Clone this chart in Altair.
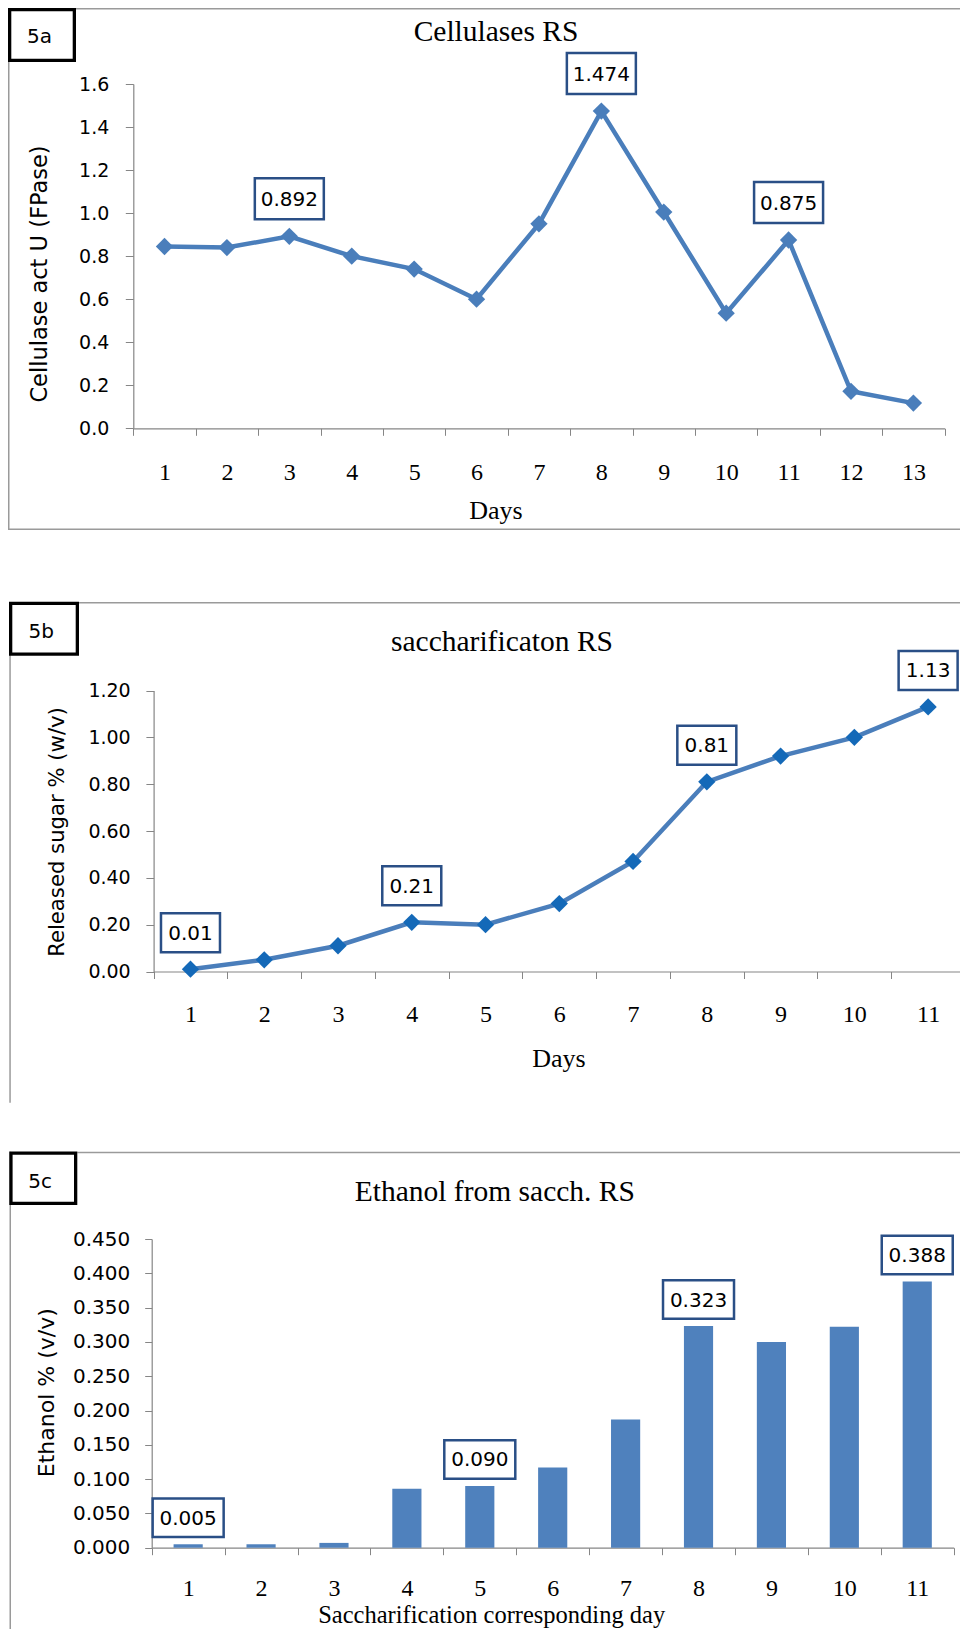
import altair as alt
import pandas as pd

# ---------------- data ----------------
days_a = [1, 2, 3, 4, 5, 6, 7, 8, 9, 10, 11, 12, 13]
cellulase = [0.845, 0.840, 0.892, 0.800, 0.740, 0.600, 0.950, 1.474, 1.005, 0.535, 0.875, 0.172, 0.117]
label_days_a = [3, 8, 11]

days_b = [1, 2, 3, 4, 5, 6, 7, 8, 9, 10, 11]
sugar = [0.01, 0.05, 0.11, 0.21, 0.20, 0.29, 0.47, 0.81, 0.92, 1.00, 1.13]
label_days_b = [1, 4, 8, 11]

days_c = [1, 2, 3, 4, 5, 6, 7, 8, 9, 10, 11]
ethanol = [0.005, 0.005, 0.007, 0.086, 0.090, 0.117, 0.187, 0.323, 0.300, 0.322, 0.388]
label_days_c = [1, 5, 8, 11]

y_ticks_a = [0.0, 0.2, 0.4, 0.6, 0.8, 1.0, 1.2, 1.4, 1.6]
y_ticks_b = [0.0, 0.2, 0.4, 0.6, 0.8, 1.0, 1.2]
y_ticks_c = [0.0, 0.05, 0.10, 0.15, 0.20, 0.25, 0.30, 0.35, 0.40, 0.45]

titles = ["Cellulases RS", "saccharificaton RS", "Ethanol from sacch. RS"]
x_titles = ["Days", "Days", "Saccharification corresponding day"]
y_titles = ["Cellulase act U (FPase)", "Released sugar % (w/v)", "Ethanol % (v/v)"]
tags = ["5a", "5b", "5c"]

# ---------------- style ----------------
AXIS_GRAY = "#868686"
FRAME_GRAY = "#9a9a9a"
LINE_BLUE = "#4a7ebb"
MARK_BLUE_B = "#1469b8"
BAR_BLUE = "#4f81bd"
BOX_BLUE = "#2a4f86"
SERIF = "Liberation Serif"
SANS = "DejaVu Sans"

# one canvas: the plot area starts at the page's 8px margin and stays inside the window
OX, OY = 8.0, 8.0
W, H = 952.0, 1621.0

ONE = pd.DataFrame({"k": [0]})


def rect(x1, y1, x2, y2, color):
    return alt.Chart(ONE).mark_rect(color=color, opacity=1).encode(
        x=alt.value(x1 - OX), x2=alt.value(x2 - OX),
        y=alt.value(y1 - OY), y2=alt.value(y2 - OY))


def text(s, x, y, size, font, angle=0):
    return alt.Chart(ONE).mark_text(
        text=s, font=font, fontSize=size, angle=angle, align="center",
        baseline="alphabetic", color="black").encode(
        x=alt.value(x - OX), y=alt.value(y - OY))


def tag_box(x1, y1, x2, y2, bw, s, tx, ty):
    return [rect(x1, y1, x2, y2, "black"),
            rect(x1 + bw, y1 + bw, x2 - bw, y2 - bw, "white"),
            text(s, tx, ty, 20, SANS)]


def encodings(p, with_axis):
    """p: panel geometry in page pixels."""
    x_axis = alt.Axis(title=None, orient="bottom", offset=(p["yb"] - OY) - H,
                      labelAngle=0, tickBand="extent", tickSize=7,
                      tickColor=AXIS_GRAY, domainColor=AXIS_GRAY, domainWidth=1.2,
                      labelFont=SERIF, labelFontSize=24, labelColor="black",
                      labelBaseline="alphabetic", labelPadding=p["xlp"], grid=False)
    y_axis = alt.Axis(title=None, orient="left", offset=-(p["x0"] - OX),
                      values=p["ticks"], format=p["fmt"], tickSize=p["yts"],
                      tickColor=AXIS_GRAY, domainColor=AXIS_GRAY, domainWidth=1.2,
                      labelFont=SANS, labelFontSize=p["ylfs"], labelColor="black",
                      labelPadding=p["ylp"], labelFlush=False, grid=False)
    x = alt.X("day:O",
              scale=alt.Scale(type="band", domain=p["days"], paddingInner=0, paddingOuter=0,
                              range=[p["x0"] - OX, p["x1"] - OX]),
              axis=x_axis if with_axis else None)
    y = alt.Y("v:Q",
              scale=alt.Scale(domain=p["dom"], nice=False, zero=True,
                              range=[p["yb"] - OY, p["yt"] - OY]),
              axis=y_axis if with_axis else None)
    return x, y


def box_path(ratio):
    return f"M-1,-{ratio}L1,-{ratio}L1,{ratio}L-1,{ratio}Z"


def data_labels(df, days, p, fmt, offset, bw, bh):
    x, y = encodings(p, False)
    sub = alt.Chart(df).transform_filter(alt.FieldOneOfPredicate(field="day", oneOf=days))
    box = sub.mark_point(shape=box_path(round(bh / bw, 4)), size=bw * bw, filled=True,
                         fill="white", stroke=BOX_BLUE, strokeWidth=2.5, opacity=1,
                         yOffset=offset).encode(x=x, y=y)
    txt = sub.mark_text(font=SANS, fontSize=20, color="black", baseline="middle",
                        yOffset=offset + 1).encode(x=x, y=y, text=alt.Text("v:Q", format=fmt))
    return [box, txt]


# ---------------- panel geometry (page pixels) ----------------
geo_a = dict(days=days_a, x0=133.3, x1=944.6, yt=84.0, yb=428.3, dom=[0, 1.6],
             ticks=y_ticks_a, fmt=".1f", yts=8, ylp=16.5, ylfs=19, xlp=43.7)
geo_b = dict(days=days_b, x0=153.6, x1=965.0, yt=690.5, yb=971.5, dom=[0, 1.2],
             ticks=y_ticks_b, fmt=".2f", yts=7.7, ylp=15.7, ylfs=19, xlp=42.5)
geo_c = dict(days=days_c, x0=151.7, x1=953.7, yt=1239.0, yb=1547.7, dom=[0, 0.45],
             ticks=y_ticks_c, fmt=".3f", yts=7, ylp=15, ylfs=20, xlp=40.3)

df_a = pd.DataFrame({"day": days_a, "v": cellulase})
df_b = pd.DataFrame({"day": days_b, "v": sugar})
df_c = pd.DataFrame({"day": days_c, "v": ethanol})

# ---------------- decorations ----------------
deco = [
    # panel a frame + tag
    rect(76, 8, 968, 9.5, FRAME_GRAY),
    rect(8, 8, 9.5, 530, FRAME_GRAY),
    rect(8, 528.5, 968, 530, FRAME_GRAY),
    *tag_box(8, 8, 76, 62, 3.3, tags[0], 39.5, 43.3),
    text(titles[0], 496, 41.4, 29.5, SERIF),
    text(x_titles[0], 496, 519.2, 26, SERIF),
    text(y_titles[0], 46.5, 274, 22.5, SANS, angle=270),
    # panel b
    rect(79, 602, 968, 603.5, FRAME_GRAY),
    rect(9.3, 602, 10.8, 1102.7, FRAME_GRAY),
    *tag_box(9, 601.7, 79, 655.7, 3.3, tags[1], 41.3, 638.3),
    text(titles[1], 502, 651.4, 29.5, SERIF),
    text(x_titles[1], 559, 1066.5, 26, SERIF),
    text(y_titles[1], 64, 832, 21.2, SANS, angle=270),
    # panel c
    rect(77.3, 1151.7, 968, 1153.2, FRAME_GRAY),
    rect(9.5, 1151.7, 11, 1629, FRAME_GRAY),
    *tag_box(9.3, 1151.5, 77.3, 1205, 3.3, tags[2], 40.2, 1188.3),
    text(titles[2], 494.8, 1200.7, 29.5, SERIF),
    text(x_titles[2], 491.7, 1623, 24.5, SERIF),
    text(y_titles[2], 54, 1392.7, 22, SANS, angle=270),
]

# ---------------- data layers ----------------
xa, ya = encodings(geo_a, True)
xa0, ya0 = encodings(geo_a, False)
layers_a = [
    alt.Chart(df_a).mark_line(color=LINE_BLUE, strokeWidth=4.5).encode(x=xa, y=ya),
    alt.Chart(df_a).mark_point(shape="diamond", filled=True, size=300, color=LINE_BLUE,
                               opacity=1).encode(x=xa0, y=ya0),
    *data_labels(df_a, label_days_a, geo_a, ".3f", -37.5, 69, 41),
]

xb, yb = encodings(geo_b, True)
xb0, yb0 = encodings(geo_b, False)
layers_b = [
    alt.Chart(df_b).mark_line(color=LINE_BLUE, strokeWidth=4.5).encode(x=xb, y=yb),
    alt.Chart(df_b).mark_point(shape="diamond", filled=True, size=300, color=MARK_BLUE_B,
                               opacity=1).encode(x=xb0, y=yb0),
    *data_labels(df_b, label_days_b, geo_b, ".2f", -36.5, 59, 39),
]

xc, yc = encodings(geo_c, True)
layers_c = [
    alt.Chart(df_c).mark_bar(width={"band": 0.4}, color=BAR_BLUE).encode(x=xc, y=yc),
    *data_labels(df_c, label_days_c, geo_c, ".3f", -26.5, 71, 38.5),
]

chart = (
    alt.layer(*deco, *layers_a, *layers_b, *layers_c)
    .resolve_scale(x="independent", y="independent")
    .properties(width=W, height=H, padding=0, background="white",
                autosize=alt.AutoSizeParams(type="none", contains="padding"))
    .configure_view(stroke=None)
)

chart.save("out.html", embed_options={"renderer": "svg", "actions": False})
